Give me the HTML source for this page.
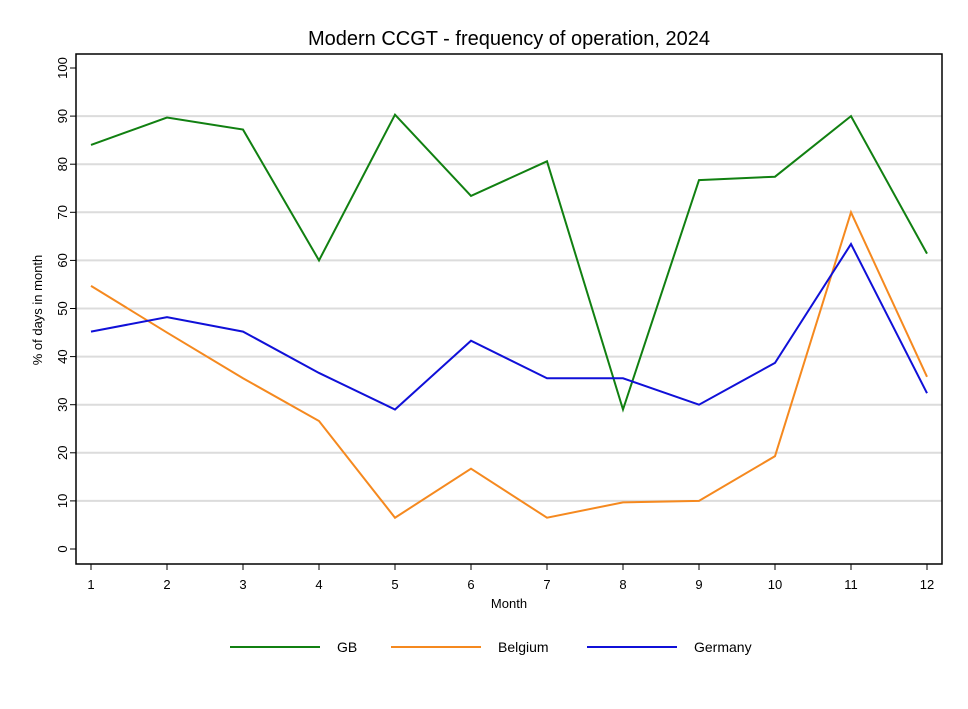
<!DOCTYPE html>
<html><head><meta charset="utf-8"><style>
body{margin:0;background:#fff;font-family:"Liberation Sans",Arial,sans-serif}
svg text{font-family:"Liberation Sans",Arial,sans-serif}
</style></head><body>
<svg id="c" width="968" height="704" xmlns="http://www.w3.org/2000/svg">
<rect width="968" height="704" fill="#fff"/>
<text x="509" y="45" font-size="20" text-anchor="middle">Modern CCGT - frequency of operation, 2024</text>
<g id="grid"></g>
<rect x="76" y="54" width="866" height="510" fill="none" stroke="#000" stroke-width="1.5"/>
<g id="axes"></g>
<g id="series"></g>
<text transform="translate(42,310) rotate(-90)" font-size="13" text-anchor="middle">% of days in month</text>
<text x="509" y="608" font-size="13" text-anchor="middle">Month</text>
<g id="legend"></g>
</svg>
<script>
const months=[1,2,3,4,5,6,7,8,9,10,11,12];
const gb=[84,89.7,87.2,60,90.3,73.4,80.6,29,76.7,77.4,90,61.4];
const belgium=[54.7,45,35.5,26.6,6.5,16.7,6.5,9.7,10,19.3,70,35.8];
const germany=[45.2,48.2,45.2,36.6,29,43.3,35.5,35.5,30,38.7,63.4,32.4];
const yTicks=[0,10,20,30,40,50,60,70,80,90,100];
const seriesNames=["GB","Belgium","Germany"];
const NS="http://www.w3.org/2000/svg";
const xs=m=>91+(m-1)*76;
const ys=v=>549-v*4.81;
function mk(t,a,p){const e=document.createElementNS(NS,t);for(const k in a)e.setAttribute(k,a[k]);p.appendChild(e);return e;}
const grid=document.getElementById('grid'),axes=document.getElementById('axes'),ser=document.getElementById('series'),leg=document.getElementById('legend');
yTicks.forEach(v=>{
 if(v>0&&v<100){const g=mk('line',{x1:76,x2:942,y1:ys(v),y2:ys(v),stroke:'#dcdcdc','stroke-width':2},grid);
 
 }
 const t=mk('line',{x1:70,x2:76,y1:ys(v),y2:ys(v),stroke:'#000'},axes);
 
 
 const l=mk('text',{transform:`translate(${67},${ys(v)}) rotate(-90)`,'font-size':13,'text-anchor':'middle'},axes);
 l.textContent=v;
 
 
});
months.forEach(m=>{
 const t=mk('line',{x1:xs(m),x2:xs(m),y1:564,y2:570,stroke:'#000'},axes);
 
 
 const l=mk('text',{x:xs(m),y:589,'font-size':13,'text-anchor':'middle'},axes);
 l.textContent=m;
 
 
});
const data=[gb,belgium,germany],cols=['#118011','#f5891f','#1010d8'],lx=[230,391,587];
data.forEach((d,i)=>{
 const p=mk('polyline',{points:d.map((v,j)=>xs(months[j])+','+ys(v)).join(' '),fill:'none',stroke:cols[i],'stroke-width':2},ser);
 
 
 const ll=mk('line',{x1:lx[i],x2:lx[i]+90,y1:647,y2:647,stroke:cols[i],'stroke-width':2},leg);
 
 
 const lt=mk('text',{x:lx[i]+107,y:652,'font-size':14},leg);
 lt.textContent=seriesNames[i];
 
 
});
</script>
</body></html>
